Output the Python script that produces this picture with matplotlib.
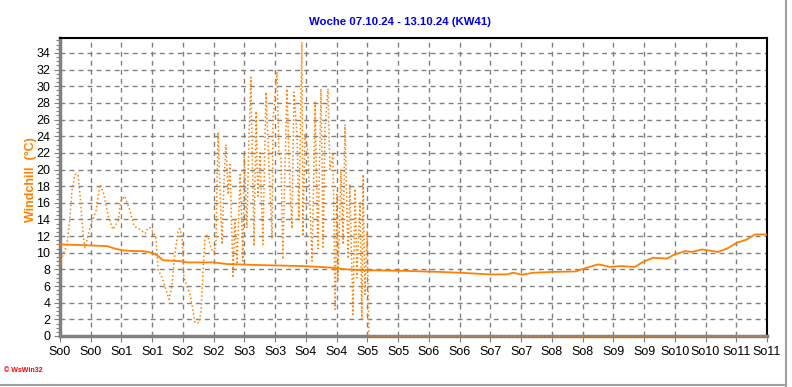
import matplotlib
matplotlib.use("Agg")
import matplotlib.pyplot as plt
from matplotlib.ticker import MultipleLocator

plt.rcParams['font.family'] = ['Liberation Sans', 'DejaVu Sans']

title = "Woche 07.10.24 - 13.10.24 (KW41)"
ylabel = "Windchill  (°C)"
tick_labels = ["So0", "So0", "So1", "So1", "So2", "So2", "So3", "So3", "So4", "So4",
               "So5", "So5", "So6", "So6", "So7", "So7", "So8", "So8", "So9", "So9",
               "So10", "So10", "So11", "So11"]

# Windchill (dotted) - x in tick-interval units
wc_x = [0.00, 0.07, 0.23, 0.33, 0.39, 0.49, 0.59, 0.65, 0.75, 0.81, 0.91, 1.01, 1.17,
        1.30, 1.43, 1.56, 1.72, 1.89, 1.98, 2.11, 2.28, 2.41, 2.60, 2.77, 2.86, 2.93,
        3.03, 3.12, 3.19, 3.32, 3.45, 3.55, 3.64, 3.74, 3.84, 3.90, 3.97, 4.03, 4.13,
        4.23, 4.33, 4.39, 4.52, 4.59, 4.65, 4.72, 4.81, 4.91, 5.01,
        5.07, 5.14, 5.20, 5.27, 5.34, 5.40, 5.47, 5.53, 5.63, 5.69, 5.76, 5.86, 5.95,
        5.99, 6.08, 6.15, 6.21, 6.31, 6.38, 6.41, 6.44, 6.51, 6.60, 6.70, 6.80, 6.90,
        6.93, 7.06, 7.12, 7.19, 7.25, 7.38, 7.48, 7.55, 7.61, 7.71, 7.77, 7.87, 7.90,
        7.97, 8.07, 8.20, 8.30, 8.39, 8.49, 8.56, 8.62, 8.72, 8.78, 8.88, 8.95, 9.01,
        9.04, 9.14, 9.21, 9.27, 9.37, 9.43, 9.53, 9.60, 9.66, 9.76, 9.82, 9.86, 9.92,
        9.99, 10.05, 23.00]
wc_y = [8.6, 9.5, 11.0, 14.6, 17.5, 19.4, 19.4, 17.0, 12.2, 10.6, 12.0, 13.5, 15.0,
        18.2, 17.0, 14.5, 12.8, 13.8, 16.2, 16.8, 15.0, 13.2, 12.8, 12.3, 13.0, 13.0,
        12.5, 11.8, 8.0, 7.0, 5.5, 4.4, 6.0, 10.0, 12.5, 12.9, 12.0, 7.0, 6.0,
        5.0, 3.0, 1.6, 1.6, 3.0, 7.5, 12.2, 12.0, 10.5, 10.0,
        11.0, 24.5, 18.0, 11.0, 19.0, 23.0, 17.0, 20.6, 7.0, 14.0, 8.6, 19.4, 9.0,
        21.8, 13.0, 24.2, 31.1, 10.8, 27.0, 20.6, 16.8, 22.0, 11.0, 29.3, 20.1, 11.7,
        26.1, 31.7, 22.0, 21.3, 9.2, 29.7, 18.0, 12.9, 29.3, 24.2, 14.0, 35.3, 12.0,
        24.2, 22.0, 9.0, 28.1, 10.5, 29.7, 10.5, 25.0, 29.7, 20.0, 21.8, 3.2, 17.0,
        6.6, 20.0, 11.0, 25.4, 9.3, 18.2, 2.6, 17.7, 7.0, 16.0, 2.0, 19.4, 5.0,
        12.6, 0.0, 0.0]

# Solid line series
t_x = [0.00, 0.88, 1.53, 1.79, 2.02, 2.37, 2.70, 2.99, 3.16, 3.35, 3.90, 4.13, 4.98,
       5.44, 6.73, 7.90, 8.46, 8.88, 9.34, 9.99, 11.06, 12.36, 13.01, 13.99, 14.54,
       14.74, 15.03, 15.39, 16.04, 16.79, 16.96, 17.50, 17.66, 17.89, 18.22, 18.70,
       18.97, 19.29, 19.75, 19.94, 20.33, 20.56, 20.88, 21.24, 21.40, 21.70, 22.02,
       22.35, 22.61, 23.00]
t_y = [11.0, 10.9, 10.8, 10.5, 10.3, 10.2, 10.2, 10.0, 9.7, 9.1, 9.0, 8.84, 8.84,
       8.64, 8.5, 8.4, 8.3, 8.2, 8.0, 7.9, 7.84, 7.7, 7.6, 7.4, 7.4,
       7.6, 7.36, 7.6, 7.7, 7.76, 8.0, 8.6, 8.5, 8.3, 8.4, 8.3,
       8.9, 9.4, 9.3, 9.7, 10.2, 10.1, 10.4, 10.2, 10.1, 10.5, 11.2,
       11.6, 12.2, 12.2]

fig = plt.figure(figsize=(7.92, 3.87), dpi=100)
ax = fig.add_axes([60/792, (387-336)/387, 707/792, (336-38)/387])

orange = "#FF8000"
ax.plot(t_x, t_y, color=orange, lw=1.3, solid_joinstyle='miter', zorder=3)
ax.plot(wc_x, wc_y, color=orange, lw=1.1, linestyle=(0, (1, 1.6)), zorder=4, clip_on=False)

ax.set_xlim(0, 23)
ax.set_ylim(0, 35.8)
ax.set_xticks(range(24))
ax.set_xticklabels(tick_labels, fontsize=9)
ax.set_yticks(range(0, 35, 2))
ax.yaxis.set_minor_locator(MultipleLocator(0.5))
ax.tick_params(axis='y', which='minor', length=3, color='#808080', width=0.8)
ax.tick_params(axis='both', which='major', length=4, color='#808080', labelsize=9, pad=3)

ax.grid(True, color='#808080', linestyle=(0, (3.5, 3)), linewidth=1.0)
ax.set_axisbelow(True)

for s in ['left', 'bottom']:
    ax.spines[s].set_color('#808080')
    ax.spines[s].set_linewidth(2.5)
for s in ['top', 'right']:
    ax.spines[s].set_color('black')
    ax.spines[s].set_linewidth(1.5)

fig.text(400/792, 1 - 22/387, title, color='#0000E0', fontsize=8.2, fontweight='bold',
         ha='center', va='center')
fig.text(31/792, 1 - 180/387, ylabel, color=orange, fontsize=9, fontweight='bold',
         rotation=90, ha='center', va='center')
fig.text(4/792, 1 - 371/387, "© WsWin32", color='red', fontsize=5, fontweight='bold',
         ha='left', va='center')

# figure border (grey frame on right and bottom)
fig.add_artist(plt.Line2D([786/792, 786/792], [0, 1], color='#A0A0A0', lw=1.5, transform=fig.transFigure))
fig.add_artist(plt.Line2D([0, 786/792], [2/387, 2/387], color='#A0A0A0', lw=1.5, transform=fig.transFigure))

fig.savefig("out.png", dpi=100)
